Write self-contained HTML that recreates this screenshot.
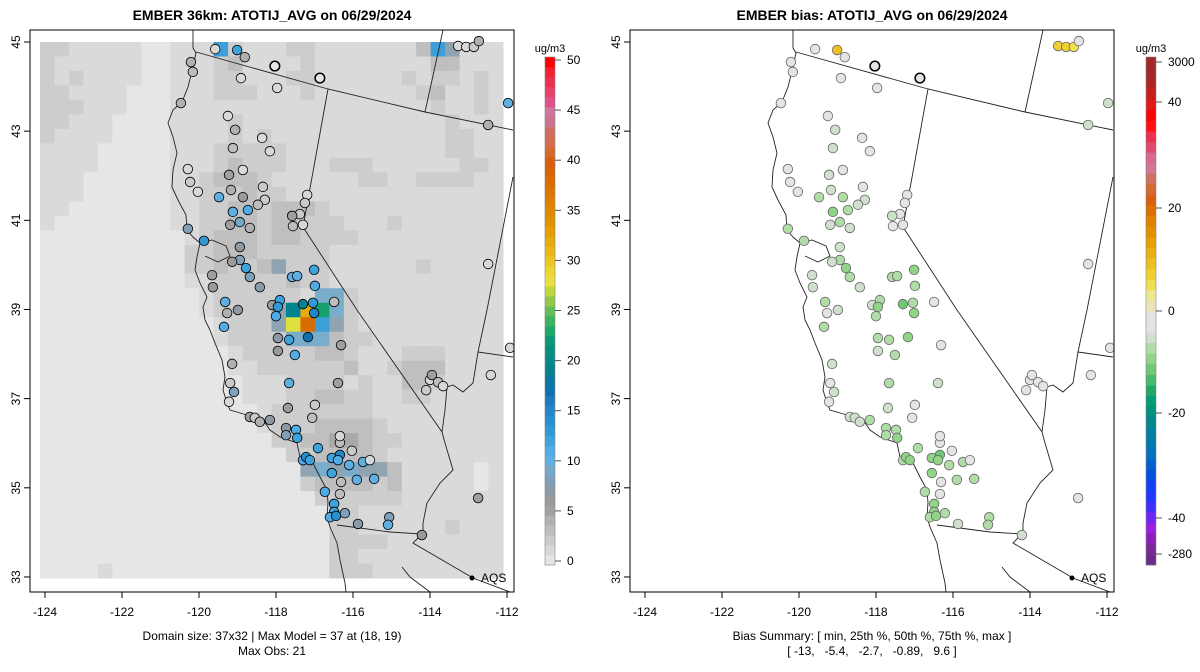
<!DOCTYPE html>
<html><head><meta charset="utf-8"><style>
html,body{margin:0;padding:0;background:#fff;}
svg{display:block;font-family:"Liberation Sans",Arial,sans-serif;}
</style></head><body>
<svg id="fig" width="1200" height="672" viewBox="0 0 1200 672" xmlns="http://www.w3.org/2000/svg"></svg>
<script>
// ---------- data ----------
const gridRows = [
"ccbbbbbaabbbicbbbccbbbbbbbdigbbb",
"cbbbbbbaabbbcdbbbbcbbbbbbbbddbbb",
"cbcbbbbaabbbccbbbccbbbbbbcbccbcb",
"ccbbbbaaabbbcccbbbcbbbbbbbcdbbcb",
"cccbbbaaabbbbbbbbbbbbbbbbbbcbbcb",
"ccbbbaaaabbbbcbbbbbbbbbbbbbbcbbb",
"cbbbbaaaabbbbcbcbbbbbbbbbbbbccbb",
"bbbbaaaaabbbcccccbbbbbbbbbbbccbb",
"bbbbaaaaabbbcdcccbbbcccbbbbbbccb",
"bbbaaaaaabbcdddcbbbbbbccbbccccbb",
"bbbaaaaaabbcccdccbbbbbbbbbbbbbbb",
"bbaaaaaaabbccddcdddcbbbbbbbbbbbb",
"baaaaaaaabbccddcddcccbbbcbbbbbbb",
"aaaaaaaaaabcdddcddccccbbbbbbbbbb",
"aaaaaaaaaaccdddcccccbbbbbbbbbbbb",
"aaaaaaaaaaccdccdgcccbbbbbbcbbbbb",
"aaaaaaaaaabbcccccdccbbbbbbbbbbbb",
"aaaaaaaaaaabccccccbhhcbbbbbbbbbb",
"aaaaaaaaaaabccccgTYGhcbbbbbbbbbb",
"aaaaaaaaaaaabcccgLOigcbbbbbbbbbb",
"aaaaaaaaaaaabcccchhhdccbbbbbbbbb",
"aaaaaaaaaaaaabcccccddcbbbcccbbbb",
"aaaaaaaaaaaaabbccccccdbbcdddbbbb",
"aaaaaaaaaaaaaabbbccccbcbbddcbbbb",
"aaaaaaaaaaaaaabbbccddccbbccbbbbb",
"aaaaaaaaaaaaaaabcccccccbbbbbbbbb",
"aaaaaaaaaaaaaaabcccddddcbbbbbbbb",
"aaaaaaaaaaaaaaaaccddeedccbbbbbbb",
"aaaaaaaaaaaaaaaaaccddddcbbbbbbbb",
"aaaaaaaaaaaaaaaaaaghghggdbbbbbab",
"aaaaaaaaaaaaaaaaaacddddcdbbbbbab",
"aaaaaaaaaaaaaaaaaaaccccccbbbbbbb",
"aaaaaaaaaaaaaaaaaaaaccbbbbbbbbbb",
"aaaaaaaaaaaaaaaaaaaaccbbbbbbcbbb",
"aaaaaaaaaaaaaaaaaaaaccccbbbbbbbb",
"aaaaaaaaaaaaaaaaaaaaccbbbbbbbbbb",
"aaaabaaaaaaaaaaaaaaacccbbbbbbbbb"];
const gridCodeColor = {a:"#e6e6e6",b:"#dadada",c:"#cdcdcd",d:"#bfbfbf",e:"#a9a9a9",f:"#999999",g:"#8fa3b0",h:"#7aaccc",i:"#3d9fd9",T:"#00838f",Y:"#e8aa10",G:"#15a06e",L:"#dde040",O:"#d96c00"};

const stLon = [-119.01,-118.81,-119.58,-118.03,-118.91,-117.97,-116.86,-120.21,-120.16,-120.47,-119.25,-119.06,-118.36,-119.12,-118.16,-118.86,-120.29,-120.23,-120.03,-119.22,-118.86,-119.48,-119.17,-118.34,-118.29,-118.47,-118.73,-119.12,-118.94,-119.19,-118.68,-117.38,-117.19,-117.25,-117.58,-117.56,-117.30,-120.29,-119.87,-118.94,-118.94,-119.14,-118.78,-118.68,-119.66,-119.64,-117.58,-117.45,-117.01,-116.99,-118.42,-119.32,-119.27,-118.99,-119.35,-118.10,-117.90,-117.95,-118.00,-117.30,-117.04,-117.01,-116.49,-117.95,-117.95,-117.66,-117.17,-116.31,-117.51,-119.14,-119.19,-119.09,-119.22,-117.66,-116.39,-117.69,-116.99,-117.06,-118.68,-118.55,-118.42,-118.16,-117.74,-117.74,-117.48,-117.45,-117.30,-117.22,-117.12,-116.91,-116.55,-116.34,-116.39,-116.34,-116.34,-116.03,-116.10,-115.74,-115.56,-116.55,-115.90,-115.45,-116.31,-116.34,-116.73,-116.49,-116.49,-116.60,-116.44,-116.21,-115.87,-115.06,-115.09,-114.21,-114.00,-113.95,-113.79,-114.10,-113.66,-112.75,-112.49,-112.49,-113.27,-113.06,-112.86,-111.97,-111.92,-112.42,-112.73];
const stLat = [44.82,44.66,44.84,44.46,44.19,43.97,44.19,44.55,44.33,43.63,43.34,43.03,42.85,42.62,42.55,42.13,42.15,41.86,41.64,42.02,41.52,41.52,41.68,41.75,41.46,41.35,41.23,41.19,40.96,40.90,40.83,41.14,41.57,41.39,41.10,40.87,40.90,40.81,40.54,40.40,40.11,40.07,39.93,39.73,39.77,39.50,39.73,39.75,39.89,39.53,39.50,39.17,38.92,38.99,38.61,39.10,39.21,39.06,38.85,39.12,39.15,38.92,39.17,38.36,38.07,38.32,38.38,38.20,37.98,37.78,37.35,37.15,36.93,37.35,37.35,36.79,36.86,36.57,36.59,36.57,36.48,36.52,36.34,36.18,36.30,36.12,35.62,35.69,35.62,35.89,35.67,35.74,35.62,36.01,36.16,35.83,35.51,35.58,35.62,35.33,35.18,35.20,35.13,34.86,34.91,34.64,34.46,34.34,34.37,34.43,34.19,34.34,34.17,33.94,37.42,37.53,37.37,37.19,37.28,34.77,40.02,43.14,44.91,44.89,44.89,43.63,38.14,37.53,45.02];
const stObs = [12,4,1,0,1,1,0,4,3,4,1,4,1,3,1,1,1,2,1,5,6,10,4,2,2,3,11,10,9,5,4,2,1,2,5,3,1,8,13,7,8,6,12,8,5,6,10,10,12,11,7,10,4,7,11,6,12,13,11,19,13,15,3,7,6,12,17,5,11,4,2,8,1,10,5,6,2,3,5,2,4,7,7,8,11,12,11,14,12,12,12,15,11,3,1,2,10,10,1,12,10,10,3,3,11,12,12,11,14,8,7,8,10,6,1,5,3,2,1,5,1,4,1,1,2,10,1,1,4];
const stBias = [9.6,-1,0,0.3,0,0,0,-1,0,-1,0,-2,0,-2,0,-1,-1,-1,-1,-3,-4,-5,-2,-1,-3,-2,-5,-6,-5,-3,-3,-1,0,-1,-2,-1,0,-4,-5,-3,-4,-3,-6,-5,-2,-3,-5,-5,-6,-5,-2,-4,-1,-3,-5,-3,-5,-6,-5,-8,-5,-6,-1,-4,-3,-5,-7,0,-5,-2,-1,-3,0,-5,-2,-3,-1,-1,-2,-3,-3,-4,-4,-4,-5,-6,-5,-7,-6,-5,-6,-8,-6,-1,0,-1,-5,-4,0,-6,-4,-4,-1,0,-5,-6,-6,-5,-7,-4,-3,-4,-5,-3,0,-1,0,0,0,-1,0,-2,8,8,6,-2,0,0,0];

const xTicks = [-124,-122,-120,-118,-116,-114,-112];
const yTicks = [33,35,37,39,41,43,45];
const obsTicks = [0,5,10,15,20,25,30,35,40,45,50];
const biasTickLabels = ["-280","-40","-20","0","20","40","3000"];
const biasTickVals = [-280,-40,-20,0,20,40,3000];

const obsRamp = ["#e5e5e5","#d8d8d8","#cacaca","#bdbdbd","#b0b0b0","#a0a0a0","#9a9a9a","#8c9aa5","#7fa0b8","#73a8c8","#5fb0e0","#50abe6","#3ea2dd","#3298d4","#2a8fcd","#2386c6","#1c7cbd","#0e72ad","#0a78a0","#078090","#07888a","#069080","#0a9877","#1da66a","#3cb35f","#62be58","#90c849","#c0d83d","#e8e040","#f0d530","#ecc622","#e9b818","#e6ab0e","#e49f05","#e29300","#e08800","#de7f00","#dd7600","#db6d00","#d96500","#d85e10","#d56a30","#d56e50","#d26e60","#cc7290","#d074a0","#e0508a","#e8406a","#ee3050","#f52030","#ff0000"];
const biasRamp = ["#6a2a88","#7a2898","#8a20b8","#9a20e0","#7028f0","#4030f8","#2038ff","#1040f0","#0050e0","#0060d0","#0070c0","#0078b0","#0080a0","#008890","#009080","#00a070","#20a868","#48b86c","#70c874","#90d488","#b0dca8","#cfe0cc","#e4e4e4","#e4e4e4","#ece4b8","#ece890","#f0e050","#f0d030","#ecc020","#e8b010","#e6a000","#e29000","#e08000","#dc7000","#d86010","#d46a30","#d07060","#d07890","#d86a90","#e04a70","#ec3050","#ff1010","#ff0000","#e01818","#c81e1e","#b02424","#a02828","#a02828"];

// ---------- layout ----------
const NS="http://www.w3.org/2000/svg";
const svg=document.getElementById('fig');
function mk(tag,attrs,parent){const e=document.createElementNS(NS,tag);for(const k in attrs)e.setAttribute(k,attrs[k]);(parent||svg).appendChild(e);return e;}
function xScale(lon,off){return off+45+(lon+124)*38.5;}
function yScale(lat){return 42+(45-lat)*44.58;}
const biasTickY=[554,518,413,311,208,102,62];
function biasToY(v){
  if(v<=biasTickVals[0])return biasTickY[0];
  for(let i=1;i<biasTickVals.length;i++){if(v<=biasTickVals[i]){const t=(v-biasTickVals[i-1])/(biasTickVals[i]-biasTickVals[i-1]);return biasTickY[i-1]+t*(biasTickY[i]-biasTickY[i-1]);}}
  return biasTickY[biasTickY.length-1];
}
function obsColor(v){let i=Math.round(v);i=Math.max(0,Math.min(obsRamp.length-1,i));return obsRamp[i];}
function biasColor(v){const y=biasToY(v);let i=Math.floor((565-y)/(508/biasRamp.length)-0.5);if(v<=-2)i-=1;i=Math.max(0,Math.min(biasRamp.length-1,i));return biasRamp[i];}

const coast="M193,30 L193,48 L196,53 L193,67 L188,87 L182,102 L173,110 L168,123 L173,137 L177,153 L173,170 L172,187 L178,200 L186,215 L187,230 L193,237 L200,243 L197,257 L195,270 L200,283 L207,297 L203,307 L205,320 L210,330 L215,343 L222,360 L225,377 L223,390 L227,403 L230,410 L247,415 L263,420 L270,430 L280,437 L297,443 L300,457 L313,463 L320,477 L327,490 L328,503 L327,517 L330,527 L337,543 L340,560 L345,583 L346,592 M200,243 L212,240 L226,246 L230,256 L218,262 L205,256";
const borders="M196,52 L328,89 L425,112 L513,130 M425,112 L443,30 M328,89 L303,227 L357,310 L442,432 L445,443 L453,470 L440,483 L427,503 L423,523 L423,533 M513,177 L487,310 L478,352 L473,383 L463,392 L453,385 L447,387 L445,410 L442,432 M478,352 L513,357 M337,525 L390,532 L422,534 L413,543 L473,578 L510,592 M402,567 L410,577 L430,592";

function panel(off,id,isBias){
  const g=mk('g',{});
  
  
  const clipId='clip-'+id;
  const cp=mk('clipPath',{id:clipId},g);mk('rect',{x:off+30,y:30,width:484,height:562},cp);
  const inner=mk('g',{'clip-path':'url(#'+clipId+')'},g);
  if(!isBias){
    const cw=(503-40)/32, ch=(578-42)/37;
    gridRows.forEach((row,r)=>{for(let c=0;c<32;c++){const code=row[c]||'b';
      const cell=mk('rect',{x:off+40+c*cw,y:42+r*ch,width:cw+0.5,height:ch+0.5,fill:gridCodeColor[code]},inner);
      
      }});
  }
  const cst=mk('path',{d:coast,fill:'none',stroke:'#222','stroke-width':0.9,transform:'translate('+off+',0)'},inner);
  
  
  const bd=mk('path',{d:borders,fill:'none',stroke:'#222','stroke-width':0.9,transform:'translate('+off+',0)'},inner);
  
  
  for(let i=0;i<stLon.length;i++){
    const fill=isBias?biasColor(stBias[i]):obsColor(stObs[i]);
    const thick=stObs[i]===0;
    const stroke=isBias&&!thick?'#666':'#000';
    const p=mk('circle',{cx:xScale(stLon[i],off),cy:yScale(stLat[i]),r:4.8,fill:fill,stroke:stroke,'stroke-width':thick?1.5:0.8},inner);
    
    
  }
  const ad=mk('circle',{cx:off+472,cy:578,r:2.5,fill:'#000'},g);
  
  
  const at=mk('text',{x:off+481,y:582,'font-size':12,fill:'#000'},g);at.textContent='AQS';
  
  
  const fr=mk('rect',{x:off+30,y:30,width:484,height:562,fill:'none',stroke:'#000','stroke-width':1},g);
  
  
  xTicks.forEach(t=>{const x=xScale(t,off);
    const tk=mk('line',{x1:x,y1:592,x2:x,y2:598,stroke:'#000'},g);
    
    
    const tl=mk('text',{x:x,y:616,'font-size':12,'text-anchor':'middle'},g);tl.textContent=String(t);
    
    });
  yTicks.forEach(t=>{const y=yScale(t);
    const tk=mk('line',{x1:off+24,y1:y,x2:off+30,y2:y,stroke:'#000'},g);
    
    
    const tl=mk('text',{x:off+20,y:y,'font-size':12,'text-anchor':'middle',transform:'rotate(-90 '+(off+20)+' '+y+')'},g);tl.textContent=String(t);
    
    });
}
panel(0,'model',false);
panel(600,'bias',true);

function txt(s,x,y,size,bold,name){const t=mk('text',{x:x,y:y,'font-size':size,'text-anchor':'middle','font-weight':bold?'bold':'normal'});t.textContent=s;
  
  return t;}
txt('EMBER 36km: ATOTIJ_AVG on 06/29/2024',272,20,14,true,'model-title');
txt('EMBER bias: ATOTIJ_AVG on 06/29/2024',872,20,14,true,'bias-title');
txt('Domain size: 37x32 | Max Model = 37 at (18, 19)',272,640,12,false,'domain-caption');
txt('Max Obs: 21',272,655,12,false,'max-obs-caption');
txt('Bias Summary: [ min, 25th %, 50th %, 75th %, max ]',872,640,12,false,'bias-summary-caption');
const bs=txt('[ -13,   -5.4,   -2.7,   -0.89,   9.6 ]',872,655,12,false,'bias-summary-values');bs.setAttribute('xml:space','preserve');bs.style.whiteSpace='pre';

const ob=obsRamp.length, oh=508/ob;
obsRamp.forEach((c,i)=>{const r=mk('rect',{x:545,y:565-(i+1)*oh,width:10,height:oh+0.4,fill:c});
  
  });
mk('rect',{x:545,y:57,width:10,height:508,fill:'none',stroke:'#888','stroke-width':0.6});
obsTicks.forEach(v=>{const y=561-v*(501/50);
  const tk=mk('line',{x1:555,y1:y,x2:561,y2:y,stroke:'#555'});
  
  
  const tl=mk('text',{x:567,y:y+4,'font-size':12});tl.textContent=String(v);
  
  });
txt('ug/m3',550,52,11,false,'obs-colorbar-unit');

const bh=508/biasRamp.length;
biasRamp.forEach((c,i)=>{const r=mk('rect',{x:1146,y:565-(i+1)*bh,width:10,height:bh+0.4,fill:c});
  
  });
mk('rect',{x:1146,y:57,width:10,height:508,fill:'none',stroke:'#888','stroke-width':0.6});
biasTickVals.forEach((v,i)=>{const y=biasToY(v);
  const tk=mk('line',{x1:1156,y1:y,x2:1162,y2:y,stroke:'#555'});
  
  
  const tl=mk('text',{x:1168,y:y+4,'font-size':12});tl.textContent=biasTickLabels[i];
  
  });
txt('ug/m3',1151,52,11,false,'bias-colorbar-unit');
</script>
</body></html>
